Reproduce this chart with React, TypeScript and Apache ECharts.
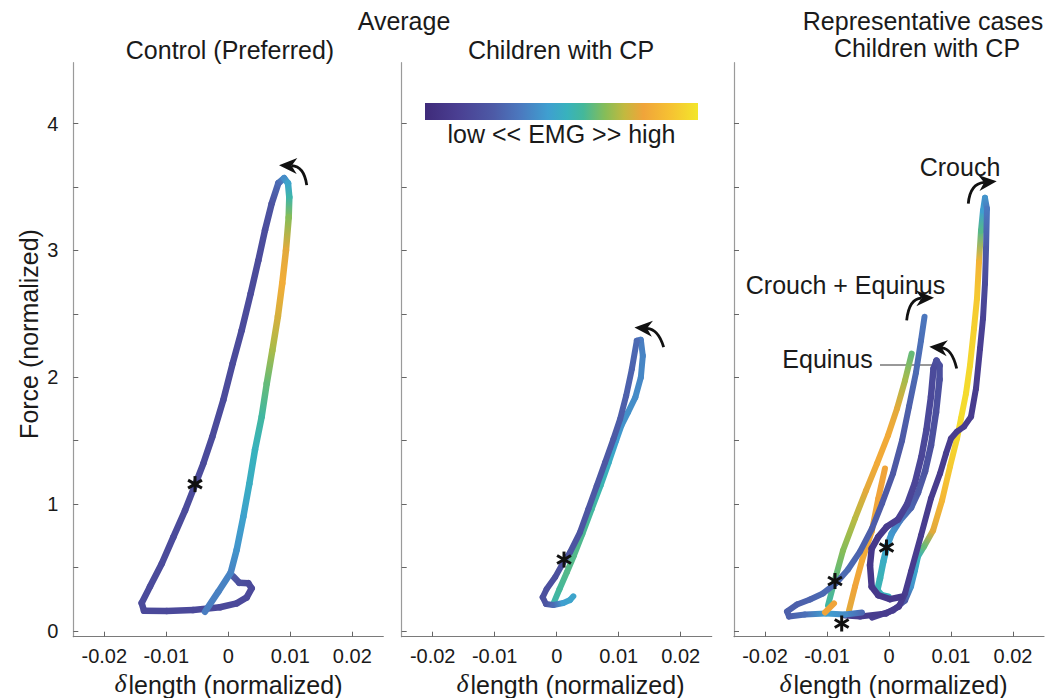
import React, { useEffect, useRef } from 'react';
import * as echarts from 'echarts';

// ---------- axes ----------
const X_TICKS = [-0.02, -0.01, 0, 0.01, 0.02];
const Y_TICKS = [0, 0.5, 1, 1.5, 2, 2.5, 3, 3.5, 4];
const Y_LABELS = [0, 1, 2, 3, 4];

// ---------- Panel 1: Average, Control (Preferred) ----------
const ctrlX = [-0.00376, -0.00161, 0.00039, 0.00135, 0.00242, 0.00339, 0.00431, 0.00539, 0.0062, 0.0071, 0.008, 0.0087, 0.0093, 0.00974, 0.00984, 0.00963, 0.009, 0.00807, 0.007, 0.00592, 0.00484, 0.00361, 0.00216, 0.00071, -0.00081, -0.00258, -0.00403, -0.00537, -0.00698, -0.00887, -0.01074, -0.01263, -0.01397, -0.0136, -0.00994, -0.00565, -0.00134, 0.00135, 0.00297, 0.00377, 0.00323, 0.00177, 0.00081];
const ctrlY = [0.152, 0.31, 0.46, 0.64, 0.9, 1.16, 1.43, 1.69, 1.95, 2.21, 2.48, 2.74, 3.0, 3.26, 3.42, 3.53, 3.57, 3.53, 3.37, 3.16, 2.92, 2.66, 2.37, 2.11, 1.82, 1.53, 1.32, 1.15, 0.95, 0.74, 0.53, 0.35, 0.22, 0.16, 0.158, 0.165, 0.187, 0.218, 0.265, 0.336, 0.376, 0.38, 0.43];
const ctrlEMG = [0.36, 0.37, 0.38, 0.42, 0.46, 0.5, 0.52, 0.57, 0.62, 0.7, 0.76, 0.83, 0.78, 0.66, 0.55, 0.47, 0.4, 0.3, 0.22, 0.19, 0.18, 0.18, 0.18, 0.18, 0.18, 0.18, 0.18, 0.18, 0.18, 0.18, 0.18, 0.18, 0.18, 0.17, 0.17, 0.17, 0.17, 0.17, 0.17, 0.17, 0.18, 0.2, 0.25];

// ---------- Panel 2: Average, Children with CP ----------
const cpX = [-0.00045, 0.00046, 0.00164, 0.00277, 0.00413, 0.00564, 0.00707, 0.0084, 0.00958, 0.01043, 0.0115, 0.01268, 0.01357, 0.01389, 0.01357, 0.01292, 0.01212, 0.0112, 0.01023, 0.00915, 0.0078, 0.00646, 0.00511, 0.00376, 0.00215, 0.00107, -0.00027, -0.00162, -0.00226, -0.00173, -0.00055, 0.00107, 0.00215, 0.00268];
const cpY = [0.226, 0.331, 0.463, 0.593, 0.764, 0.961, 1.145, 1.329, 1.5, 1.618, 1.723, 1.842, 1.999, 2.169, 2.296, 2.288, 2.065, 1.854, 1.671, 1.513, 1.329, 1.145, 0.961, 0.778, 0.62, 0.541, 0.423, 0.331, 0.266, 0.213, 0.205, 0.221, 0.244, 0.273];
const cpEMG = [0.55, 0.58, 0.6, 0.6, 0.59, 0.57, 0.54, 0.5, 0.45, 0.42, 0.41, 0.4, 0.39, 0.38, 0.36, 0.3, 0.28, 0.27, 0.26, 0.25, 0.24, 0.24, 0.23, 0.22, 0.22, 0.21, 0.2, 0.2, 0.2, 0.22, 0.3, 0.45, 0.47, 0.47];

// ---------- Panel 3: Representative cases ----------
const crouchX = [-0.00274, 0.00065, 0.00258, 0.00355, 0.00419, 0.00468, 0.00565, 0.0071, 0.00855, 0.00984, 0.01097, 0.01161, 0.01242, 0.01306, 0.01371, 0.01419, 0.01452, 0.01484, 0.01516, 0.01548, 0.0158, 0.01565, 0.01548, 0.01516, 0.01468, 0.01403, 0.01323, 0.0121, 0.01097, 0.01, 0.00919, 0.00823, 0.00677, 0.00516, 0.00355, 0.00258, 0.00161, -0.00048, -0.00468, -0.0071];
const crouchY = [0.106, 0.162, 0.24, 0.351, 0.477, 0.587, 0.666, 0.792, 1.028, 1.296, 1.517, 1.675, 1.872, 2.092, 2.384, 2.62, 2.912, 3.156, 3.314, 3.416, 3.329, 3.014, 2.738, 2.463, 2.226, 1.911, 1.69, 1.611, 1.572, 1.517, 1.399, 1.241, 1.044, 0.753, 0.469, 0.296, 0.193, 0.138, 0.114, 0.122];
const crouchEMG = [0.12, 0.15, 0.25, 0.42, 0.47, 0.52, 0.62, 0.78, 0.86, 0.92, 0.96, 0.97, 0.97, 0.96, 0.94, 0.92, 0.85, 0.6, 0.45, 0.42, 0.35, 0.25, 0.18, 0.14, 0.12, 0.1, 0.1, 0.1, 0.1, 0.1, 0.1, 0.1, 0.1, 0.1, 0.1, 0.1, 0.1, 0.1, 0.1, 0.1];

const equinusX = [-0.00011, -0.00118, -0.00189, -0.00145, -0.00092, -0.00027, 0.00044, 0.00177, 0.00355, 0.00468, 0.00581, 0.00677, 0.00758, 0.00815, 0.00815, 0.00766, 0.00718, 0.00677, 0.00605, 0.00524, 0.00419, 0.0029, 0.00145, -0.00037, -0.00173, -0.00279, -0.00306, -0.00279, -0.00173, 0.00016, 0.00205];
const equinusY = [0.27, 0.282, 0.322, 0.414, 0.545, 0.676, 0.768, 0.871, 0.973, 1.091, 1.257, 1.462, 1.722, 1.982, 2.092, 2.132, 2.069, 1.848, 1.588, 1.375, 1.17, 0.997, 0.879, 0.821, 0.742, 0.65, 0.519, 0.348, 0.282, 0.251, 0.27];
const equinusEMG = [0.52, 0.52, 0.53, 0.53, 0.5, 0.46, 0.43, 0.36, 0.28, 0.25, 0.22, 0.2, 0.2, 0.2, 0.2, 0.2, 0.18, 0.17, 0.17, 0.16, 0.15, 0.15, 0.12, 0.1, 0.08, 0.08, 0.08, 0.08, 0.08, 0.08, 0.08];

const ceBlueX = [-0.00435, -0.0071, -0.01016, -0.01355, -0.01613, -0.01645, -0.01484, -0.01274, -0.01065, -0.00844, -0.00661, -0.00468, -0.00274, -0.00113, 0.00065, 0.0021, 0.00323, 0.00435, 0.00516, 0.00573];
const ceBlueY = [0.146, 0.13, 0.138, 0.13, 0.114, 0.154, 0.209, 0.248, 0.296, 0.382, 0.485, 0.626, 0.808, 1.005, 1.241, 1.501, 1.769, 2.037, 2.289, 2.478];
const ceBlueEMG = [0.3, 0.4, 0.45, 0.32, 0.27, 0.27, 0.27, 0.28, 0.3, 0.3, 0.3, 0.28, 0.26, 0.25, 0.24, 0.25, 0.27, 0.3, 0.32, 0.34];

const ceWarmX = [-0.00984, -0.00903, -0.00742, -0.00548, -0.00371, -0.00194, -0.00016, 0.00129, 0.00258, 0.00366];
const ceWarmY = [0.201, 0.351, 0.634, 0.887, 1.107, 1.32, 1.541, 1.753, 1.974, 2.187];
const ceWarmEMG = [0.56, 0.6, 0.66, 0.72, 0.78, 0.82, 0.82, 0.78, 0.7, 0.62];

const orangeX = [-0.00645, -0.00548, -0.00435, -0.00279, -0.00173, -0.00065];
const orangeY = [0.162, 0.351, 0.556, 0.784, 1.044, 1.281];
const orangeEMG = [0.78, 0.8, 0.82, 0.82, 0.8, 0.8];

const chunkX = [-0.01032, -0.00887];
const chunkY = [0.146, 0.217];
const chunkEMG = [0.8, 0.8];

// asterisks (event markers)
const starsP1 = [[-0.00537, 1.158]];
const starsP2 = [[0.00118, 0.563]];
const starsP3 = [[-0.00871, 0.394], [-0.0004, 0.658], [-0.00763, 0.059]];

// direction arrows: tail, control, head tip
const arrowsP1 = [[0.01265, 3.515, 0.01221, 3.664, 0.00818, 3.672]];
const arrowsP2 = [[0.01725, 2.238, 0.01639, 2.38, 0.01254, 2.393]];
const arrowsP3 = [
  [0.01279, 3.369, 0.01306, 3.526, 0.01737, 3.545],
  [0.00285, 2.449, 0.00323, 2.62, 0.00726, 2.628],
  [0.01092, 2.069, 0.01016, 2.226, 0.0065, 2.24],
];

// colour map (low << EMG >> high)
const CMAP_POS = [0, 0.12, 0.25, 0.35, 0.45, 0.52, 0.58, 0.66, 0.73, 0.8, 0.9, 1];
const CMAP_COL = ['#3f2b7a', '#4a3f92', '#4d5aa6', '#4b79bf', '#3f9fd0', '#38b2bd', '#44b89a', '#86bd58', '#c2b93f', '#f0a43a', '#f6c232', '#f3e62b'];

const FONT = '"Liberation Sans", Arial, Helvetica, sans-serif';
const SERIF = '"Liberation Serif", "DejaVu Serif", "Times New Roman", serif';

function hexRgb(h: string) {
  return [parseInt(h.slice(1, 3), 16), parseInt(h.slice(3, 5), 16), parseInt(h.slice(5, 7), 16)];
}
function cmap(v: number) {
  const t = Math.max(0, Math.min(1, v));
  for (let i = 0; i < CMAP_POS.length - 1; i++) {
    if (t <= CMAP_POS[i + 1]) {
      const f = (t - CMAP_POS[i]) / (CMAP_POS[i + 1] - CMAP_POS[i]);
      const a = hexRgb(CMAP_COL[i]);
      const b = hexRgb(CMAP_COL[i + 1]);
      const c = a.map((x, k) => Math.round(x + (b[k] - x) * f));
      return `rgb(${c[0]},${c[1]},${c[2]})`;
    }
  }
  return CMAP_COL[CMAP_COL.length - 1];
}

function segs(xs: number[], ys: number[], es: number[], reverse = false) {
  const out: number[][] = [];
  for (let i = 0; i < xs.length - 1; i++) {
    out.push([xs[i], ys[i], xs[i + 1], ys[i + 1], es[i], es[i + 1]]);
  }
  if (reverse) out.reverse();
  return out;
}

function curveSeries(idx: number, data: number[][], width: number) {
  return {
    type: 'custom',
    coordinateSystem: 'cartesian2d',
    xAxisIndex: idx,
    yAxisIndex: idx,
    silent: true,
    encode: { x: [0, 2], y: [1, 3] },
    data,
    renderItem: (params: any, api: any) => {
      const a = api.coord([api.value(0), api.value(1)]);
      const b = api.coord([api.value(2), api.value(3)]);
      const ca = cmap(api.value(4));
      const cb = cmap(api.value(5));
      return {
        type: 'line',
        shape: { x1: a[0], y1: a[1], x2: b[0], y2: b[1] },
        style: {
          stroke: new echarts.graphic.LinearGradient(a[0], a[1], b[0] + 0.01, b[1] + 0.01, [
            { offset: 0, color: ca },
            { offset: 1, color: cb },
          ], true),
          lineWidth: width,
          lineCap: 'round',
        },
      };
    },
  };
}

function starSeries(idx: number, data: number[][]) {
  return {
    type: 'custom',
    coordinateSystem: 'cartesian2d',
    xAxisIndex: idx,
    yAxisIndex: idx,
    silent: true,
    z: 5,
    data,
    renderItem: (params: any, api: any) => {
      const p = api.coord([api.value(0), api.value(1)]);
      const r = 8;
      const children = [90, 30, 150].map((deg) => {
        const t = (deg * Math.PI) / 180;
        return {
          type: 'line',
          shape: { x1: p[0] - r * Math.cos(t), y1: p[1] - r * Math.sin(t), x2: p[0] + r * Math.cos(t), y2: p[1] + r * Math.sin(t) },
          style: { stroke: '#111', lineWidth: 3 },
        };
      });
      return { type: 'group', children };
    },
  };
}

function arrowSeries(idx: number, data: number[][]) {
  return {
    type: 'custom',
    coordinateSystem: 'cartesian2d',
    xAxisIndex: idx,
    yAxisIndex: idx,
    silent: true,
    z: 5,
    data,
    renderItem: (params: any, api: any) => {
      const t = api.coord([api.value(0), api.value(1)]);
      const c = api.coord([api.value(2), api.value(3)]);
      const h = api.coord([api.value(4), api.value(5)]);
      let dx = h[0] - c[0];
      let dy = h[1] - c[1];
      const len = Math.hypot(dx, dy) || 1;
      dx /= len;
      dy /= len;
      const nx = -dy;
      const ny = dx;
      const L = 18;
      const W = 8;
      const base = [h[0] - dx * L, h[1] - dy * L];
      const notch = [h[0] - dx * L * 0.7, h[1] - dy * L * 0.7];
      return {
        type: 'group',
        children: [
          {
            type: 'bezierCurve',
            shape: { x1: t[0], y1: t[1], cpx1: c[0], cpy1: c[1], x2: notch[0], y2: notch[1] },
            style: { stroke: '#111', lineWidth: 2.8, fill: null },
          },
          {
            type: 'polygon',
            shape: {
              points: [
                [h[0], h[1]],
                [base[0] + nx * W, base[1] + ny * W],
                [notch[0], notch[1]],
                [base[0] - nx * W, base[1] - ny * W],
              ],
            },
            style: { fill: '#111' },
          },
        ],
      };
    },
  };
}

const fmt = (v: number) => (Math.abs(v) < 1e-9 ? '0' : String(+v.toFixed(2)));

function makeX(i: number) {
  return {
    type: 'value',
    gridIndex: i,
    min: -0.025,
    max: 0.025,
    axisLine: { show: true, onZero: false, lineStyle: { color: '#7a7a7a', width: 1.2 } },
    axisTick: { show: true, inside: true, length: 5, customValues: X_TICKS, lineStyle: { color: '#666' } },
    axisLabel: { show: true, customValues: X_TICKS, margin: 9, fontSize: 20, color: '#1a1a1a', fontFamily: FONT, formatter: fmt },
    splitLine: { show: false },
  };
}
function makeY(i: number, labels: boolean) {
  return {
    type: 'value',
    gridIndex: i,
    min: -0.045,
    max: 4.48,
    axisLine: { show: true, onZero: false, lineStyle: { color: '#9a9a9a', width: 1.2 } },
    axisTick: { show: true, inside: true, length: 5, customValues: Y_TICKS, lineStyle: { color: '#666' } },
    axisLabel: { show: labels, customValues: Y_LABELS, margin: 15, fontSize: 20, color: '#1a1a1a', fontFamily: FONT, formatter: fmt },
    splitLine: { show: false },
  };
}

const txt = (x: number, y: number, text: string, extra: any = {}, el: any = {}) => ({
  type: 'text',
  x,
  y,
  silent: true,
  ...el,
  style: { text, fontSize: 25, fontFamily: FONT, fill: '#1a1a1a', align: 'center', verticalAlign: 'middle', ...extra },
});

// x-axis title: italic delta followed by the rest, placed by its left edge
const xTitle = (left: number) => [
  txt(left - 2, 696, 'δ', { fontFamily: SERIF, fontStyle: 'italic', fontSize: 26, align: 'right', verticalAlign: 'bottom' }),
  txt(left, 697, 'length (normalized)', { align: 'left', verticalAlign: 'bottom' }),
];

export default function App() {
  const ref = useRef<HTMLDivElement>(null);
  useEffect(() => {
    if (!ref.current) return;
    const chart = echarts.init(ref.current, undefined, { renderer: 'svg' });
    const gridTop = 62.7;
    const gridH = 574;
    const option: any = {
      animation: false,
      backgroundColor: '#ffffff',
      grid: [
        { left: 73.3, top: gridTop, width: 310, height: gridH },
        { left: 401.7, top: gridTop, width: 310, height: gridH },
        { left: 734, top: gridTop, width: 310, height: gridH },
      ],
      xAxis: [makeX(0), makeX(1), makeX(2)],
      yAxis: [makeY(0, true), makeY(1, false), makeY(2, false)],
      series: [
        curveSeries(0, segs(ctrlX, ctrlY, ctrlEMG, true), 6.5),
        curveSeries(1, segs(cpX, cpY, cpEMG), 6),
        curveSeries(2, segs(crouchX, crouchY, crouchEMG), 6),
        curveSeries(2, segs(orangeX, orangeY, orangeEMG), 6),
        curveSeries(2, segs(ceWarmX, ceWarmY, ceWarmEMG), 6),
        curveSeries(2, segs(equinusX, equinusY, equinusEMG), 6.5),
        curveSeries(2, segs(ceBlueX, ceBlueY, ceBlueEMG), 6),
        curveSeries(2, segs(chunkX, chunkY, chunkEMG), 6),
        starSeries(0, starsP1),
        starSeries(1, starsP2),
        starSeries(2, starsP3),
        arrowSeries(0, arrowsP1),
        arrowSeries(1, arrowsP2),
        arrowSeries(2, arrowsP3),
      ],
      graphic: [
        txt(404, 21, 'Average'),
        txt(230, 50, 'Control (Preferred)'),
        txt(561, 50, 'Children with CP'),
        txt(923, 21, 'Representative cases'),
        txt(927, 48, 'Children with CP'),
        {
          type: 'rect',
          silent: true,
          shape: { x: 425, y: 103, width: 273, height: 17 },
          style: {
            fill: new echarts.graphic.LinearGradient(0, 0, 1, 0, CMAP_POS.map((p, i) => ({ offset: p, color: CMAP_COL[i] }))),
          },
        },
        txt(561.5, 134, 'low << EMG >> high'),
        txt(960, 167, 'Crouch'),
        txt(845.5, 285, 'Crouch + Equinus'),
        txt(827.5, 359, 'Equinus'),
        { type: 'line', silent: true, shape: { x1: 880, y1: 365, x2: 933, y2: 365 }, style: { stroke: '#333', lineWidth: 1 } },
        txt(29, 334, 'Force (normalized)', {}, { rotation: Math.PI / 2 }),
        ...xTitle(128.5),
        ...xTitle(470.5),
        ...xTitle(793.5),
      ],
    };
    chart.setOption(option);
    return () => chart.dispose();
  }, []);
  return <div ref={ref} style={{ position: 'fixed', left: 0, top: 0, width: 1049, height: 698, background: '#fff' }} />;
}
